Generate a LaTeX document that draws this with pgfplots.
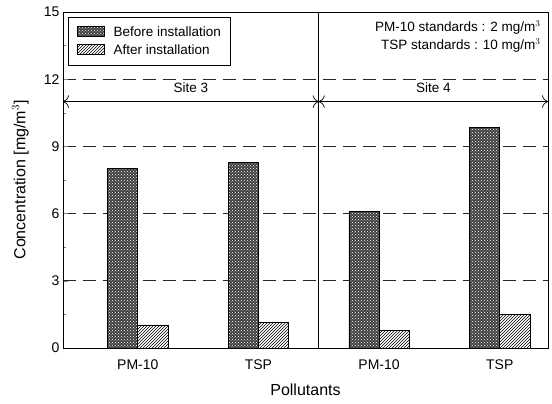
\documentclass[border=0pt]{standalone}
\usepackage{pgfplots}
\pgfplotsset{compat=1.18}
\usepackage{fontspec}
\setmainfont{Liberation Sans}
\usetikzlibrary{patterns,arrows.meta}

\begin{document}
\begin{tikzpicture}
\useasboundingbox (-63pt,-56pt) rectangle (489pt,348pt);
\begin{axis}[
    at={(0,0)}, anchor=south west,
    scale only axis,
    width=485pt, height=336pt,
    xmin=-0.62, xmax=3.4,
    ymin=0, ymax=15,
    xtick={0,1,2,3},
    xticklabels={PM-10,TSP,PM-10,TSP},
    x tick style={draw=none},
    ytick={0,3,6,9,12,15},
    minor y tick num=1,
    ytick pos=left,
    tick align=inside,
    major tick length=5pt, minor tick length=3pt,
    /pgf/number format/assume math mode=true,
    ticklabel style={font=\fontsize{14}{16}\selectfont},
    xticklabel style={yshift=-8pt},
    ylabel={Concentration [mg/m$^3$]},
    xlabel={Pollutants},
    label style={font=\fontsize{16}{18}\selectfont},
    ylabel style={at={(axis description cs:-0.088,0.5)}, anchor=center},
    xlabel style={at={(axis description cs:0.5,-0.125)}, anchor=center},
    ymajorgrids,
    major grid style={dash pattern=on 13pt off 7pt, line width=0.8pt, black!85},
    axis line style={line width=0.9pt},
    legend style={at={(rel axis cs:0.011,0.985)}, anchor=north west,
        font=\fontsize{13.5}{16}\selectfont, draw=black, line width=0.8pt,
        inner xsep=8pt, inner ysep=7pt, row sep=3pt},
    legend cell align=left,
    area legend,
    legend image code/.code={\draw[#1] (0cm,-0.15cm) rectangle (0.95cm,0.2cm);
        \path (1.2cm,0cm);},
]
\addplot[ybar, bar width=0.25, bar shift=-0.125, draw=black, line width=0.7pt,
    fill=black!75, postaction={pattern=crosshatch dots, pattern color=white}]
    coordinates {(0,8.0) (1,8.3) (2,6.1) (3,9.85)};
\addlegendentry{Before installation}
\addplot[ybar, bar width=0.25, bar shift=0.125, draw=black, line width=0.7pt,
    pattern=north east lines]
    coordinates {(0,1.03) (1,1.15) (2,0.8) (3,1.5)};
\addlegendentry{After installation}

\draw[line width=0.8pt] (axis cs:1.5,0) -- (axis cs:1.5,15);
\draw[{To[length=6pt]}-{To[length=6pt]}, line width=0.7pt] (axis cs:-0.62,11) -- (axis cs:1.5,11);
\draw[{To[length=6pt]}-{To[length=6pt]}, line width=0.7pt] (axis cs:1.5,11) -- (axis cs:3.4,11);
\node[font=\fontsize{13.5}{15}\selectfont] at (axis cs:0.44,11.6) {Site 3};
\node[font=\fontsize{13.5}{15}\selectfont] at (axis cs:2.45,11.6) {Site 4};
\node[anchor=north east, align=right, font=\fontsize{13.5}{18}\selectfont, inner sep=0pt]
    at (rel axis cs:0.985,0.975) {PM-10 standards : 2 mg/m$^3$\\TSP standards : 10 mg/m$^3$};
\end{axis}
\end{tikzpicture}
\end{document}
